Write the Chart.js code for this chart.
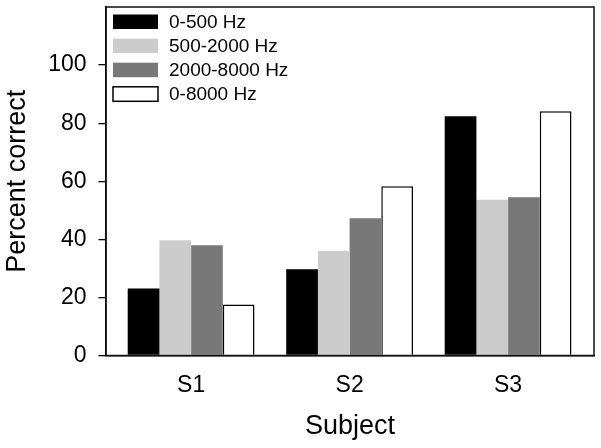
<!DOCTYPE html>
<html>
<head>
<meta charset="utf-8">
<script src="https://cdn.jsdelivr.net/npm/chart.js@4"></script>
<style>
  html, body { margin: 0; padding: 0; background: #fff; }
  #wrap { width: 601px; height: 448px; }
</style>
</head>
<body>
<div id="wrap"><canvas id="chart"></canvas></div>
<script>
const subjects = ['S1', 'S2', 'S3']
const bandLabels = ['0-500 Hz', '500-2000 Hz', '2000-8000 Hz', '0-8000 Hz']
const band0to500 = [23.1, 29.7, 82.4]
const band500to2000 = [39.7, 36.0, 53.6]
const band2000to8000 = [38.0, 47.3, 54.5]
const band0to8000 = [17.6, 58.3, 84.1]
const yTicks = [0, 20, 40, 60, 80, 100]

const fills = ['#000000', '#cccccc', '#787878', '#ffffff']
const font = 'Liberation Sans, Arial, Helvetica, sans-serif'

const series = [band0to500, band500to2000, band2000to8000, band0to8000]
const datasets = series.map((values, s) => ({
  label: bandLabels[s],
  data: values.map((v, i) => ({ x: i + 1, y: v })),
  backgroundColor: fills[s],
  borderColor: '#000000',
  borderWidth: s === 3 ? 1.5 : 0
}))

// Box round the plot plus the legend that sits inside it, top left.
const framePlugin = {
  id: 'frame',
  afterDraw(chart) {
    const { ctx, chartArea: a } = chart
    ctx.save()
    ctx.strokeStyle = '#111111'
    ctx.lineWidth = 1.5
    ctx.strokeRect(a.left, a.top, a.right - a.left, a.bottom - a.top)

    ctx.font = '19px ' + font
    ctx.textBaseline = 'middle'
    ctx.textAlign = 'left'
    chart.data.datasets.forEach((ds, i) => {
      const x = a.left + 7
      const y = a.top + 7.5 + i * 24.1
      ctx.fillStyle = ds.backgroundColor
      ctx.fillRect(x, y, 45, 14.5)
      if (ds.borderWidth) {
        ctx.lineWidth = 1.5
        ctx.strokeStyle = '#000'
        ctx.strokeRect(x, y, 45, 14.5)
      }
      ctx.fillStyle = '#000'
      ctx.fillText(ds.label, x + 56, y + 8)
    })
    ctx.restore()
  }
}

new Chart(document.getElementById('chart'), {
  type: 'bar',
  data: { datasets },
  plugins: [framePlugin],
  options: {
    responsive: true,
    maintainAspectRatio: false,
    animation: false,
    events: [],
    layout: { padding: { left: 0, top: 7, right: 7, bottom: 0 } },
    datasets: { bar: { categoryPercentage: 0.8, barPercentage: 1.0 } },
    scales: {
      x: {
        type: 'linear',
        offset: false,
        min: 0.463,
        max: 3.542,
        afterFit: (axis) => {
          axis.height = 92.5
          axis.paddingLeft = 0
          axis.paddingRight = 0
        },
        afterBuildTicks: (axis) => {
          axis.ticks = subjects.map((_, i) => ({ value: i + 1 }))
        },
        grid: { display: false, drawTicks: false },
        border: { display: true, color: '#000', width: 1.5 },
        ticks: {
          color: '#000',
          padding: 16,
          font: { family: font, size: 23 },
          callback: (value) => subjects[value - 1]
        },
        title: {
          display: true,
          text: 'Subject',
          color: '#000',
          font: { family: font, size: 27 },
          padding: { top: 0, bottom: 5 }
        }
      },
      y: {
        min: 0,
        max: 120,
        afterFit: (axis) => {
          axis.width = 106
          axis.paddingTop = 0
          axis.paddingBottom = 0
        },
        afterBuildTicks: (axis) => {
          axis.ticks = yTicks.map((value) => ({ value }))
        },
        grid: { display: true, drawOnChartArea: false, drawTicks: true, tickLength: 7.5, color: '#000', lineWidth: 1.3 },
        border: { display: true, color: '#000', width: 1.5 },
        ticks: {
          color: '#000',
          padding: 12,
          font: { family: font, size: 23 }
        },
        title: {
          display: true,
          text: 'Percent correct',
          color: '#000',
          font: { family: font, size: 27 },
          padding: { top: 1, bottom: 0 }
        }
      }
    },
    plugins: {
      legend: { display: false },
      tooltip: { enabled: false }
    }
  }
})
</script>
</body>
</html>
